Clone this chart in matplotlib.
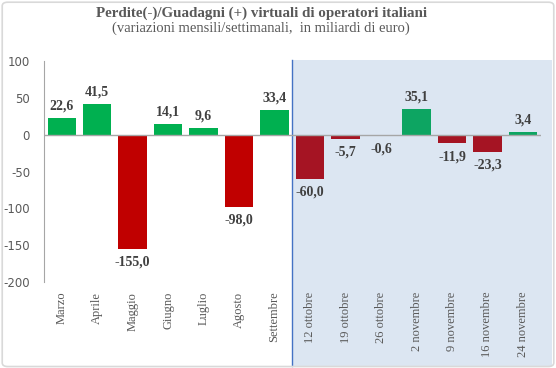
import matplotlib.pyplot as plt
from matplotlib.patches import FancyBboxPatch

# Data
categories = ['Marzo', 'Aprile', 'Maggio', 'Giugno', 'Luglio', 'Agosto', 'Settembre',
              '12 ottobre', '19 ottobre', '26 ottobre', '2 novembre', '9 novembre',
              '16 novembre', '24 novembre']
values = [22.6, 41.5, -155.0, 14.1, 9.6, -98.0, 33.4,
          -60.0, -5.7, -0.6, 35.1, -11.9, -23.3, 3.4]
n_monthly = 7

MONTH_POS, MONTH_NEG = '#00B050', '#C00000'
WEEK_POS, WEEK_NEG = '#0DA562', '#A51423'
GRAY = '#595959'
SERIF = 'Liberation Serif'

fig = plt.figure(figsize=(5.56, 3.68), dpi=100)
fig.patches.append(FancyBboxPatch((0.004, 0.004), 0.992, 0.99,
                                  boxstyle='round,pad=0,rounding_size=0.01',
                                  transform=fig.transFigure, fill=False,
                                  edgecolor='#D9D9D9', linewidth=1.2))

ax = fig.add_axes([0.0791, 0.2337, 0.8934, 0.6005])
ax.set_facecolor('none')

x = list(range(len(categories)))
colors = []
for i, v in enumerate(values):
    if i < n_monthly:
        colors.append(MONTH_POS if v >= 0 else MONTH_NEG)
    else:
        colors.append(WEEK_POS if v >= 0 else WEEK_NEG)

ax.bar(x, values, width=0.8, color=colors, zorder=3)

# weekly shaded area
ax.axvspan(n_monthly - 0.5, 13.82, ymin=-0.38, ymax=1.005, color='#DCE6F2',
           clip_on=False, zorder=0, lw=0)
ax.axvline(n_monthly - 0.5, ymin=-0.38, ymax=1.005, color='#4472C4', lw=1,
           clip_on=False, zorder=1)

for xi, v in zip(x, values):
    lbl = f'{v:.1f}'.replace('.', ',')
    if v >= 0:
        ax.annotate(lbl, (xi, v), xytext=(0, 4), textcoords='offset points',
                    ha='center', va='bottom', fontsize=10, fontweight='bold',
                    family=SERIF, color='#404040')
    else:
        ax.annotate(lbl, (xi, v), xytext=(0, -5), textcoords='offset points',
                    ha='center', va='top', fontsize=10, fontweight='bold',
                    family=SERIF, color='#404040')

ax.axhline(0, color='#A6A6A6', lw=1, zorder=4)
ax.set_xlim(-0.5, 13.5)
ax.set_ylim(-200, 100)
ax.set_yticks([100, 50, 0, -50, -100, -150, -200])
ax.set_yticklabels(['100', '50', '0', '-50', '-100', '-150', '-200'])
ax.tick_params(axis='y', length=0, pad=10, labelsize=8.5, labelcolor=GRAY)
ax.set_xticks(x)
ax.set_xticklabels(categories, rotation=90, family=SERIF, fontsize=9, color=GRAY,
                   va='top')
ax.tick_params(axis='x', length=0, pad=7)

for s in ['top', 'right', 'bottom']:
    ax.spines[s].set_visible(False)
ax.spines['left'].set_color('#A6A6A6')

fig.text(0.47, 0.965, 'Perdite(-)/Guadagni (+) virtuali di operatori italiani',
         ha='center', va='center', family=SERIF, fontweight='bold', fontsize=10.8,
         color=GRAY)
fig.text(0.47, 0.922, '(variazioni mensili/settimanali,  in miliardi di euro)',
         ha='center', va='center', family=SERIF, fontsize=10.5, color=GRAY)

fig.savefig('out.png', dpi=100)
